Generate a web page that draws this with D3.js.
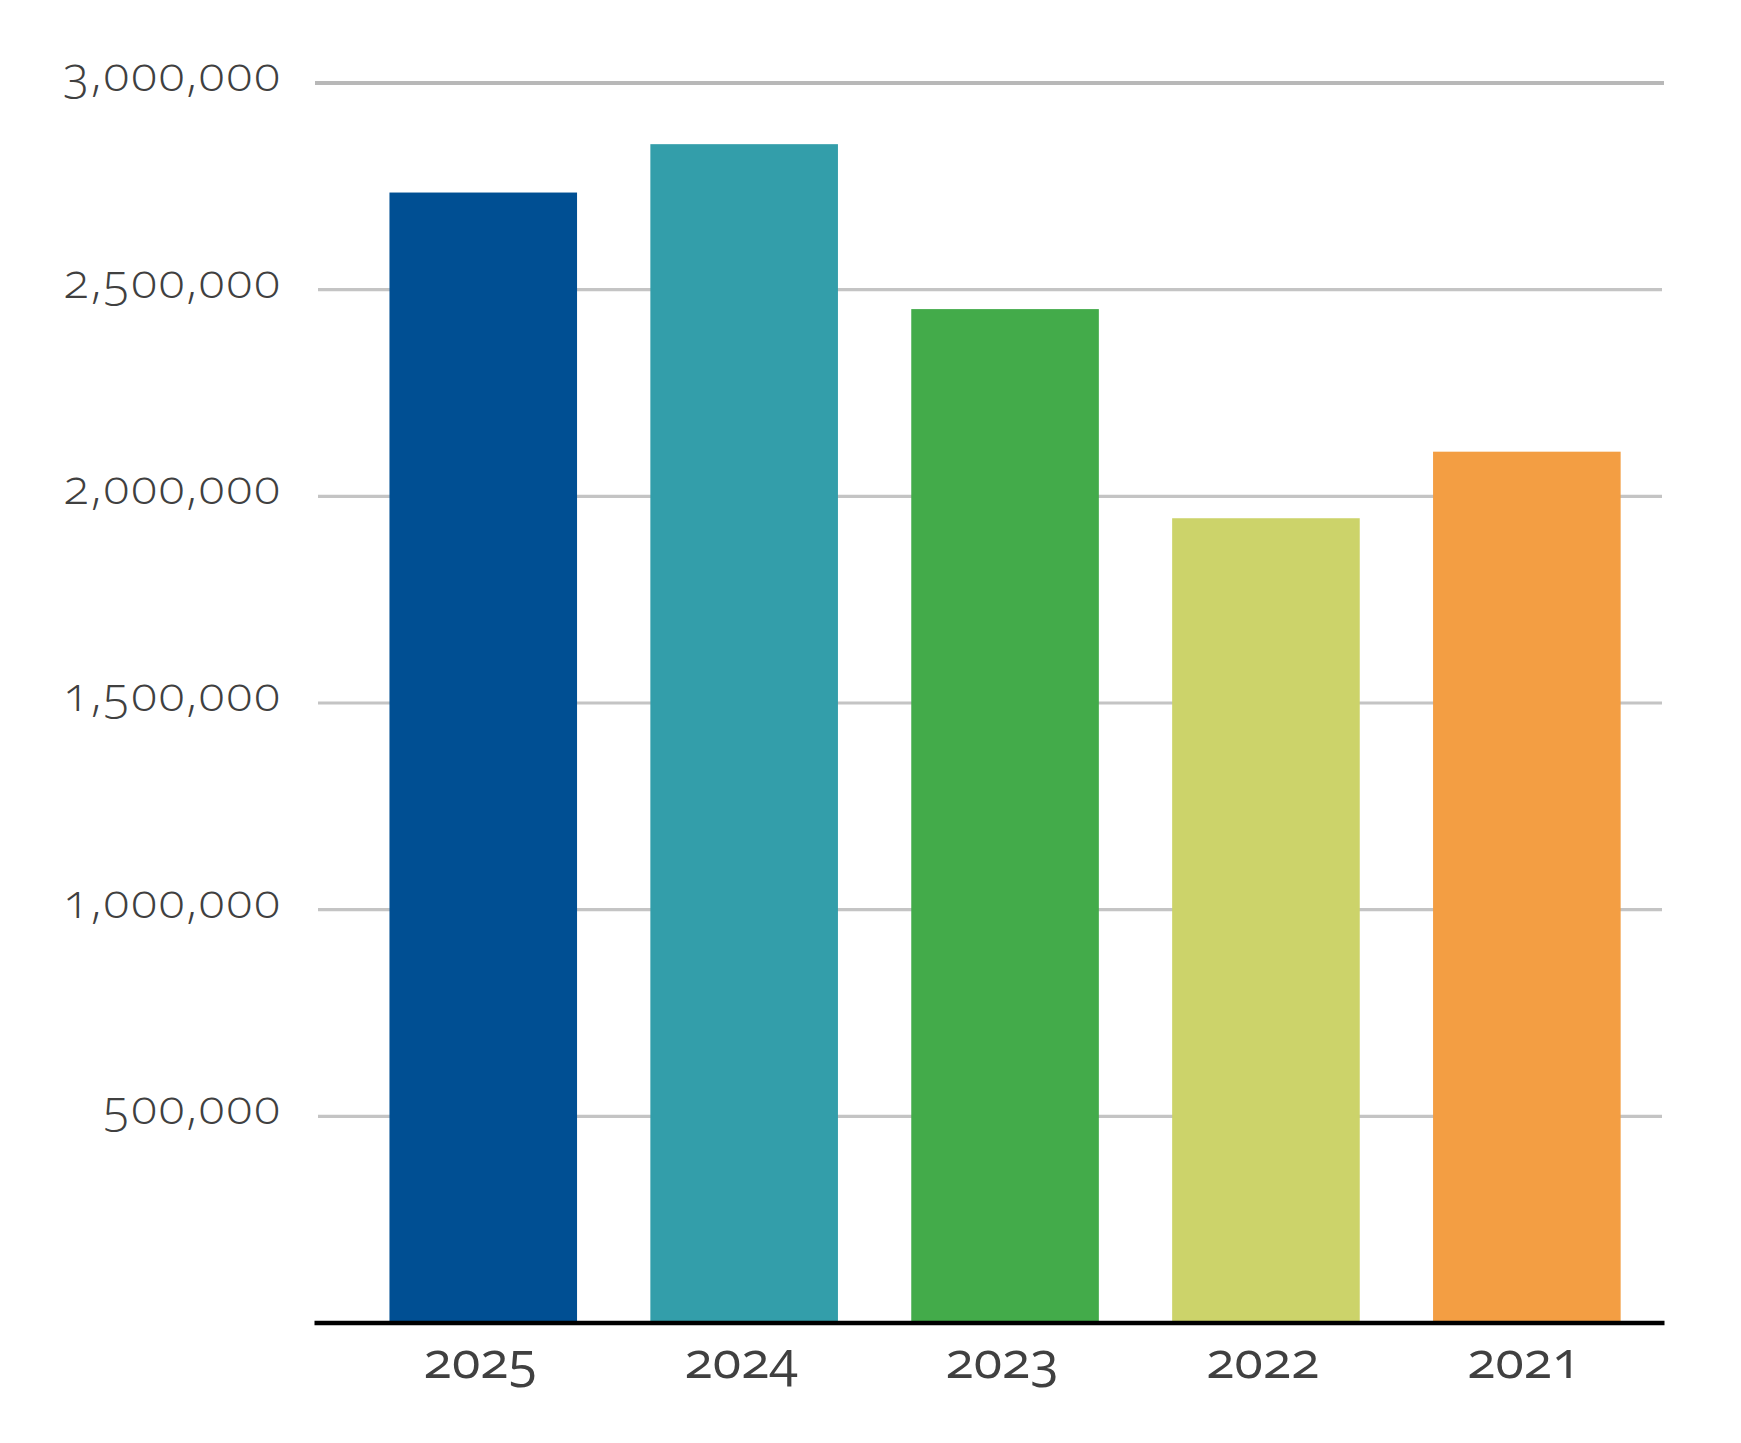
<!DOCTYPE html>
<html>
<head>
<meta charset="utf-8">
<script src="https://cdn.jsdelivr.net/npm/d3@7"></script>
<style>
  html, body { margin: 0; padding: 0; background: #ffffff; }
  svg { display: block; }
  .lbl { font-family: "Open Sans", "Noto Sans", sans-serif; font-variant-numeric: oldstyle-nums; font-feature-settings: "onum" 1; fill: #404040; }
</style>
</head>
<body>
<svg id="chart" width="1741" height="1443"></svg>
<script>
const years = ["2025", "2024", "2023", "2022", "2021"];
const values = [2735000, 2852000, 2453000, 1947000, 2108000];
const colors = ["#004f93", "#339eaa", "#43ab4a", "#ccd36a", "#f39e43"];
const yTicks = [500000, 1000000, 1500000, 2000000, 2500000, 3000000];

const svg = d3.select("#chart");
svg.append("rect").attr("width", 1741).attr("height", 1443).attr("fill", "#fff");

const y = d3.scaleLinear().domain([0, 3000000]).range([1323, 83]);
const x = d3.scaleBand().domain(years).range([352.8, 1657.3])
  .paddingInner(0.281).paddingOuter(0.1405);

const fmt = d3.format(",");

svg.append("g").selectAll("line").data(yTicks).join("line")
  .attr("x1", d => d === 3000000 ? 315 : 318)
  .attr("x2", d => d === 3000000 ? 1664 : 1662)
  .attr("y1", d => y(d)).attr("y2", d => y(d))
  .attr("stroke", d => d === 3000000 ? "#b8b8b8" : "#c4c4c4")
  .attr("stroke-width", d => d === 3000000 ? 3.8 : 3.2);

svg.append("g").selectAll("text").data(yTicks).join("text")
  .attr("class", "lbl")
  .attr("x", 282)
  .attr("y", d => y(d) + 8)
  .attr("text-anchor", "end")
  .attr("font-size", 48)
  .attr("font-weight", 350)
  .attr("letter-spacing", 2)
  .text(d => fmt(d));

svg.append("g").selectAll("rect").data(years).join("rect")
  .attr("x", d => x(d))
  .attr("width", x.bandwidth())
  .attr("y", (d, i) => y(values[i]))
  .attr("height", (d, i) => y(0) - y(values[i]))
  .attr("fill", (d, i) => colors[i]);

svg.append("line")
  .attr("x1", 314.5).attr("x2", 1664.5)
  .attr("y1", y(0)).attr("y2", y(0))
  .attr("stroke", "#000").attr("stroke-width", 4.6);

svg.append("g").selectAll("text").data(years).join("text")
  .attr("class", "lbl")
  .attr("x", d => x(d) + x.bandwidth() / 2 - 3)
  .attr("y", 1378)
  .attr("text-anchor", "middle")
  .attr("font-size", 52)
  .attr("font-weight", 500)
  .text(d => d);
</script>
</body>
</html>
